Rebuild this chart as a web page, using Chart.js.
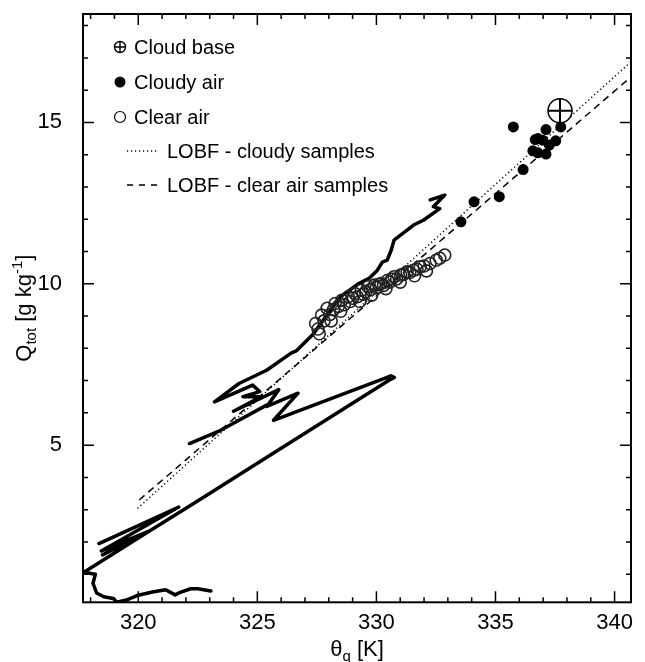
<!DOCTYPE html>
<html>
<head>
<meta charset="utf-8">
<script src="https://cdn.jsdelivr.net/npm/chart.js@4.4.1/dist/chart.umd.min.js"></script>
<style>
    html, body { margin: 0; padding: 0; background: #fff; }
</style>
</head>
<body>
<canvas id="chart" width="645" height="662"></canvas>
<script>
// axis limits and tick labels
const xMin = 317.68, xMax = 340.69;
const yMin = 0.13, yMax = 18.36;
const xTicks = [320, 325, 330, 335, 340];
const yTicks = [5, 10, 15];

// aircraft track (theta_q, Q_tot), null = break in the line
const trackTheta = [
    323.05, 322.5, 322.2, 321.7, 321.55, 321.15, 320.6, 320.0, 319.5, 319.1,
    318.95, 318.55, 318.25, 318.1, 318.2, 317.72,
    320.0, 322.51, 325.8, 328.68, 330.53, 330.75, 330.6, 330.45,
    325.68, 326.71, 325.4, 325.9, 324.0, 325.15, 324.4, 325.1, 324.8, 323.2,
    324.23, 325.39, 326.42, 326.63, 327.31, 328.48, 329.22, 329.71, 330.04,
    330.25, 330.45, 330.62, 330.74, 331.56, 331.97, 332.66, 332.39, 332.87, 332.26,
    null,
    322.15, 323.46, 325.39,
    null,
    318.35, 321.7, 318.45, 320.4, 318.5
];
const trackQ = [
    0.48, 0.55, 0.55, 0.42, 0.36, 0.52, 0.45, 0.35, 0.2, 0.13,
    0.25, 0.3, 0.42, 0.72, 1.0, 1.06,
    2.12, 3.28, 4.81, 6.15, 7.01, 7.1, 7.15, 7.1,
    5.77, 6.61, 6.2, 6.72, 6.05, 6.5, 6.5, 6.66, 6.86, 6.34,
    6.91, 7.32, 7.85, 7.92, 8.41, 9.59, 9.99, 10.18, 10.42,
    10.67, 10.73, 11.04, 11.35, 11.82, 11.97, 12.33, 12.39, 12.75, 12.6,
    null,
    5.05, 5.46, 6.24,
    null,
    1.95, 3.08, 1.72, 2.32, 1.6
];

// cloudy samples
const cloudyTheta = [333.55, 334.10, 335.16, 335.75, 336.16, 336.57, 336.67, 336.78,
    336.78, 336.98, 337.12, 337.12, 337.26, 337.53, 337.74];
const cloudyQ = [11.92, 12.54, 12.70, 14.86, 13.54, 14.12, 14.47, 14.06,
    14.50, 14.45, 14.78, 14.02, 14.30, 14.43, 14.86];

// clear air samples
const clearTheta = [327.45, 327.55, 327.6, 327.7, 327.8, 327.93, 328.05, 328.1, 328.2, 328.27,
    328.4, 328.5, 328.55, 328.65, 328.82, 328.9, 329.0, 329.09, 329.2, 329.3,
    329.37, 329.45, 329.55, 329.64, 329.75, 329.8, 329.92, 330.0, 330.1, 330.19,
    330.3, 330.4, 330.47, 330.55, 330.65, 330.74, 330.85, 331.0, 331.02, 331.15,
    331.29, 331.4, 331.56, 331.6, 331.7, 331.84, 332.0, 332.1, 332.25, 332.51,
    332.66, 332.87];
const clearQ = [8.77, 8.6, 8.45, 9.03, 8.85, 9.24, 9.05, 8.85, 9.2, 9.39,
    9.3, 9.15, 9.49, 9.35, 9.6, 9.45, 9.55, 9.7, 9.6, 9.45,
    9.8, 9.68, 9.75, 9.91, 9.82, 9.65, 9.96, 9.88, 9.98, 10.01,
    9.95, 9.85, 10.11, 10.05, 10.15, 10.22, 10.15, 10.05, 10.27, 10.3,
    10.37, 10.35, 10.42, 10.25, 10.45, 10.53, 10.55, 10.4, 10.63, 10.73,
    10.79, 10.89];

// cloud base
const baseTheta = [337.71];
const baseQ = [15.36];

// lines of best fit
const cloudyFitTheta = [319.97, 340.69];
const cloudyFitQ = [3.04, 16.88];
const clearFitTheta = [320.04, 340.69];
const clearFitQ = [3.30, 16.41];

const FONT = "'Liberation Sans', Arial, Helvetica, sans-serif";

function pts(xs, ys) {
    return xs.map((v, i) => ({ x: v, y: ys[i] }));
}

// frame with inward ticks on all four sides
const frameTicks = {
    id: "frameTicks",
    afterDatasetsDraw(chart) {
        const { ctx, chartArea: a, scales } = chart;
        const x = scales.x, y = scales.y;
        ctx.save();
        ctx.strokeStyle = "#000";
        ctx.lineWidth = 1.5;
        ctx.beginPath();
        for (let v = Math.ceil(xMin); v <= xMax; v++) {
            const px = x.getPixelForValue(v);
            const len = v % 5 === 0 ? 11 : 5;
            ctx.moveTo(px, a.bottom);
            ctx.lineTo(px, a.bottom - len);
            ctx.moveTo(px, a.top);
            ctx.lineTo(px, a.top + len);
        }
        for (let q = Math.ceil(yMin); q <= yMax; q++) {
            const py = y.getPixelForValue(q);
            const len = q % 5 === 0 ? 11 : 5;
            ctx.moveTo(a.left, py);
            ctx.lineTo(a.left + len, py);
            ctx.moveTo(a.right, py);
            ctx.lineTo(a.right - len, py);
        }
        ctx.stroke();
        ctx.lineWidth = 2;
        ctx.strokeRect(a.left, a.top, a.right - a.left, a.bottom - a.top);
        ctx.restore();
    },
};

// legend inside the plot
const insideLegend = {
    id: "insideLegend",
    afterDraw(chart) {
        const ctx = chart.ctx;
        ctx.save();
        ctx.fillStyle = "#000";
        ctx.strokeStyle = "#000";
        ctx.font = "20px " + FONT;
        ctx.textBaseline = "middle";
        ctx.textAlign = "left";

        // cloud base
        ctx.lineWidth = 1.4;
        ctx.beginPath();
        ctx.arc(120, 47, 5.5, 0, Math.PI * 2);
        ctx.moveTo(114.5, 47); ctx.lineTo(125.5, 47);
        ctx.moveTo(120, 41.5); ctx.lineTo(120, 52.5);
        ctx.stroke();
        ctx.fillText("Cloud base", 134, 48);

        // cloudy
        ctx.beginPath();
        ctx.arc(120, 82, 5.5, 0, Math.PI * 2);
        ctx.fill();
        ctx.fillText("Cloudy air", 134, 83);

        // clear
        ctx.lineWidth = 1.2;
        ctx.beginPath();
        ctx.arc(120, 117, 5.5, 0, Math.PI * 2);
        ctx.stroke();
        ctx.fillText("Clear air", 134, 118);

        // dotted
        ctx.lineWidth = 1.5;
        ctx.setLineDash([1.2, 2.8]);
        ctx.beginPath();
        ctx.moveTo(127, 151); ctx.lineTo(158, 151);
        ctx.stroke();
        ctx.fillText("LOBF - cloudy samples", 167, 152);

        // dashed
        ctx.setLineDash([6, 6]);
        ctx.beginPath();
        ctx.moveTo(127, 185); ctx.lineTo(160, 185);
        ctx.stroke();
        ctx.setLineDash([]);
        ctx.fillText("LOBF - clear air samples", 167, 186);
        ctx.restore();
    },
};

// axis titles with sub/superscripts
const axisTitles = {
    id: "axisTitles",
    afterDraw(chart) {
        const { ctx, chartArea: a } = chart;
        const big = "22px " + FONT, small = "15px " + FONT;
        ctx.save();
        ctx.fillStyle = "#000";
        ctx.textBaseline = "alphabetic";
        ctx.textAlign = "left";

        function drawParts(parts, cx, cy) {
            let w = 0;
            parts.forEach((p) => { ctx.font = p[1]; w += ctx.measureText(p[0]).width; });
            let xx = cx - w / 2;
            parts.forEach((p) => {
                ctx.font = p[1];
                ctx.fillText(p[0], xx, cy + p[2]);
                xx += ctx.measureText(p[0]).width;
            });
        }

        drawParts([["\u03b8", big, 0], ["q", small, 5], [" [K]", big, 0]],
            (a.left + a.right) / 2, 656);

        ctx.translate(31, (a.top + a.bottom) / 2);
        ctx.rotate(-Math.PI / 2);
        drawParts([["Q", big, 0], ["tot", small, 5], [" [g kg", big, 0], ["-1", small, -9], ["]", big, 0]], 0, 0);
        ctx.restore();
    },
};

const ctx = document.getElementById("chart").getContext("2d");
const chart = new Chart(ctx, {
    type: "scatter",
    data: {
        datasets: [
            {
                label: "Cloud base cross",
                data: pts(baseTheta, baseQ),
                pointStyle: "cross",
                pointRadius: 12,
                borderColor: "#000",
                borderWidth: 2,
                order: 0,
            },
            {
                label: "Cloud base",
                data: pts(baseTheta, baseQ),
                pointStyle: "circle",
                pointRadius: 12,
                backgroundColor: "#fff",
                borderColor: "#000",
                borderWidth: 1.5,
                order: 1,
            },
            {
                label: "Cloudy air",
                data: pts(cloudyTheta, cloudyQ),
                pointRadius: 5.5,
                backgroundColor: "#000",
                borderColor: "#000",
                borderWidth: 0,
                order: 2,
            },
            {
                label: "Clear air",
                data: pts(clearTheta, clearQ),
                pointRadius: 6,
                backgroundColor: "rgba(0,0,0,0)",
                borderColor: "#222",
                borderWidth: 1.6,
                order: 3,
            },
            {
                label: "LOBF - cloudy samples",
                data: pts(cloudyFitTheta, cloudyFitQ),
                showLine: true,
                pointRadius: 0,
                borderColor: "#000",
                borderWidth: 1.5,
                borderDash: [1.2, 2.8],
                order: 4,
            },
            {
                label: "LOBF - clear air samples",
                data: pts(clearFitTheta, clearFitQ),
                showLine: true,
                pointRadius: 0,
                borderColor: "#000",
                borderWidth: 1.5,
                borderDash: [7, 5],
                order: 4,
            },
            {
                label: "Track",
                data: pts(trackTheta, trackQ),
                showLine: true,
                spanGaps: false,
                pointRadius: 0,
                borderColor: "#000",
                borderWidth: 3.5,
                borderCapStyle: "round",
                borderJoinStyle: "round",
                tension: 0,
                order: 5,
            },
        ],
    },
    options: {
        responsive: false,
        animation: false,
        devicePixelRatio: 1,
        layout: { padding: { top: 14, right: 2, left: 0, bottom: 0 } },
        plugins: {
            legend: { display: false },
            tooltip: { enabled: false },
        },
        scales: {
            x: {
                type: "linear",
                min: xMin,
                max: xMax,
                afterBuildTicks: (s) => { s.ticks = xTicks.map((v) => ({ value: v })); },
                afterFit: (s) => {
                    s.height = 59.7;
                    s.paddingLeft = 0;
                    s.paddingRight = 0;
                },
                grid: { display: false, drawTicks: false },
                border: { display: false },
                ticks: {
                    color: "#000",
                    font: { family: FONT, size: 22, lineHeight: 1.88 },
                    padding: 0,
                    maxRotation: 0,
                    autoSkip: false,
                },
            },
            y: {
                type: "linear",
                min: yMin,
                max: yMax,
                afterBuildTicks: (s) => { s.ticks = yTicks.map((v) => ({ value: v })); },
                afterFit: (s) => {
                    s.width = 83;
                    s.paddingTop = 0;
                    s.paddingBottom = 0;
                },
                grid: { display: false, drawTicks: false },
                border: { display: false },
                ticks: {
                    color: "#000",
                    font: { family: FONT, size: 22 },
                    padding: 21,
                    autoSkip: false,
                },
            },
        },
    },
    plugins: [frameTicks, insideLegend, axisTitles],
});
</script>
</body>
</html>
